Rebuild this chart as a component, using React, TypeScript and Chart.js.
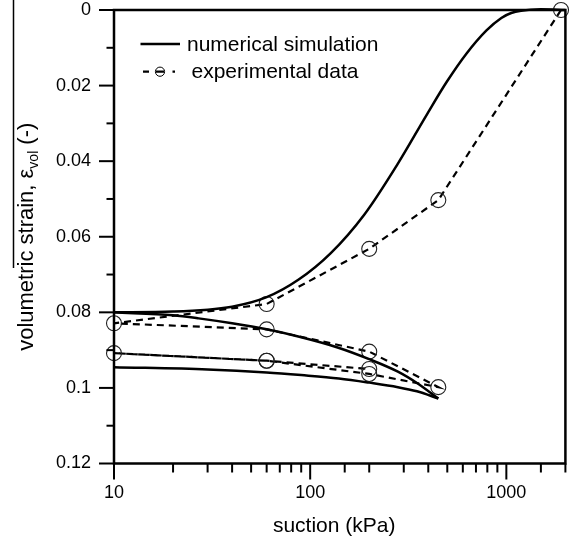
import React, { useEffect, useRef } from 'react';
import { Chart, registerables } from 'chart.js';

Chart.register(...registerables);

const FONT = "'Liberation Sans', Arial, Helvetica, sans-serif";

// numerical simulation: first wetting path (from 2000 kPa down to 10 kPa)
const simWettingSuction = [10, 20, 40, 60, 87, 127, 189, 278, 394, 497, 627, 792, 943, 1059, 1189, 1500, 2000];
const simWettingStrain = [0.08, 0.0798, 0.0785, 0.076, 0.0714, 0.0644, 0.0541, 0.0409, 0.0276, 0.019, 0.0115, 0.0054, 0.0021, 0.0008, 0.0002, -0.0002, 0];

// numerical simulation: drying path (10 -> 450 kPa)
const simDryingSuction = [10, 20, 27, 40, 60, 87, 138, 200, 280, 350, 450];
const simDryingStrain = [0.08, 0.0808, 0.0816, 0.0829, 0.0845, 0.0864, 0.0893, 0.0924, 0.0957, 0.0987, 0.1028];

// numerical simulation: re-wetting path (450 -> 10 kPa)
const simRewettingSuction = [10, 30, 60, 90, 140, 200, 280, 350, 450];
const simRewettingStrain = [0.0945, 0.0951, 0.0959, 0.0966, 0.0975, 0.0986, 0.0998, 0.1009, 0.1028];

// experimental data (measured sequence)
const expSuction = [1900, 450, 200, 60, 10, 60, 200, 450, 200, 60, 10, 60, 200];
const expStrain = [0, 0.0503, 0.0632, 0.0778, 0.0829, 0.0845, 0.0904, 0.0998, 0.0963, 0.0928, 0.0908, 0.0928, 0.095];

const xMin = 10;
const xMax = 2000;
const yMin = 0;
const yMax = 0.12;
const yStep = 0.01;
const xTickLabels = ['10', '100', '1000'];
const yTickLabels = ['0', '0.02', '0.04', '0.06', '0.08', '0.1', '0.12'];

const legendLabels = ['numerical simulation', 'experimental data'];
const xTitle = 'suction (kPa)';
const yTitleMain = 'volumetric strain, \u03B5';
const yTitleSub = 'vol';
const yTitleEnd = ' (-)';

const fmtY = (v: number) => String(Number(v.toFixed(2)));

const toPoints = (xs: number[], ys: number[]) => xs.map((x, i) => ({ x, y: ys[i] }));

const framePlugin = {
  id: 'framePlugin',
  afterDraw(chart: any) {
    const { ctx, chartArea, scales } = chart;
    const { left, right, top, bottom } = chartArea;
    const xs = scales.x;
    const ys = scales.y;
    ctx.save();
    ctx.strokeStyle = '#000';
    ctx.fillStyle = '#000';
    ctx.lineCap = 'butt';

    // tick marks
    ctx.lineWidth = 2;
    ys.ticks.forEach((t: any) => {
      const py = ys.getPixelForValue(t.value);
      const major = yTickLabels.includes(fmtY(t.value));
      const len = major ? 15 : 7.5;
      ctx.beginPath();
      ctx.moveTo(left - len, py);
      ctx.lineTo(left, py);
      ctx.stroke();
    });
    xs.ticks.forEach((t: any) => {
      const px = xs.getPixelForValue(t.value);
      const major = xTickLabels.includes(String(t.value));
      const len = major ? 16 : 9;
      ctx.beginPath();
      ctx.moveTo(px, bottom);
      ctx.lineTo(px, bottom + len);
      ctx.stroke();
    });

    // frame
    ctx.lineWidth = 2.5;
    ctx.lineJoin = 'miter';
    ctx.strokeRect(left, top, right - left, bottom - top);

    // legend
    const r1 = top + 34;
    const r2 = top + 61.7;
    ctx.lineWidth = 2.5;
    ctx.beginPath();
    ctx.moveTo(left + 26.5, r1);
    ctx.lineTo(left + 66, r1);
    ctx.stroke();
    ctx.font = `21px ${FONT}`;
    ctx.textBaseline = 'middle';
    ctx.textAlign = 'left';
    ctx.fillText(legendLabels[0], left + 73, r1 + 1);

    ctx.lineWidth = 2.2;
    ctx.beginPath();
    ctx.moveTo(left + 29, r2);
    ctx.lineTo(left + 35, r2);
    ctx.moveTo(left + 42, r2);
    ctx.lineTo(left + 50, r2);
    ctx.moveTo(left + 58.5, r2);
    ctx.lineTo(left + 61, r2);
    ctx.stroke();
    ctx.lineWidth = 1;
    ctx.beginPath();
    ctx.arc(left + 46, r2, 4.6, 0, Math.PI * 2);
    ctx.stroke();
    ctx.fillText(legendLabels[1], left + 77.5, r2 + 1);

    // x axis title
    ctx.font = `21px ${FONT}`;
    ctx.textAlign = 'center';
    ctx.textBaseline = 'middle';
    ctx.fillText(xTitle, (left + right) / 2 - 5.5, 526);

    // y axis title with subscript
    ctx.textAlign = 'left';
    const cy = (top + bottom) / 2;
    ctx.translate(33, cy);
    ctx.rotate(-Math.PI / 2);
    ctx.textBaseline = 'alphabetic';
    const bigFont = `22px ${FONT}`;
    const smallFont = `14px ${FONT}`;
    ctx.font = bigFont;
    const w1 = ctx.measureText(yTitleMain).width;
    const w3 = ctx.measureText(yTitleEnd).width;
    ctx.font = smallFont;
    const w2 = ctx.measureText(yTitleSub).width;
    let u = -(w1 + w2 + w3) / 2;
    ctx.font = bigFont;
    ctx.fillText(yTitleMain, u, 0);
    u += w1;
    ctx.font = smallFont;
    ctx.fillText(yTitleSub, u, 5);
    u += w2;
    ctx.font = bigFont;
    ctx.fillText(yTitleEnd, u, 0);
    ctx.restore();

    // thin stray line present beside the y title in the original figure
    ctx.save();
    ctx.strokeStyle = '#000';
    ctx.lineWidth = 1.5;
    ctx.beginPath();
    ctx.moveTo(13.5, 0);
    ctx.lineTo(13.5, 268);
    ctx.stroke();
    ctx.restore();
  },
};

export default function App() {
  const canvasRef = useRef<HTMLCanvasElement | null>(null);

  useEffect(() => {
    if (!canvasRef.current) return;
    const solid = {
      borderColor: '#000',
      borderWidth: 2.5,
      pointRadius: 0,
      fill: false,
      cubicInterpolationMode: 'monotone' as const,
      clip: false as any,
    };
    const chart = new Chart(canvasRef.current, {
      type: 'line',
      data: {
        datasets: [
          { ...solid, label: legendLabels[0], data: toPoints(simWettingSuction, simWettingStrain) },
          { ...solid, label: legendLabels[0] + ' 2', data: toPoints(simDryingSuction, simDryingStrain) },
          { ...solid, label: legendLabels[0] + ' 3', data: toPoints(simRewettingSuction, simRewettingStrain) },
          {
            label: legendLabels[1],
            data: toPoints(expSuction, expStrain),
            borderColor: '#000',
            borderWidth: 2.2,
            borderDash: [7, 5],
            tension: 0,
            fill: false,
            pointStyle: 'circle',
            pointRadius: 7.5,
            pointBorderWidth: 1.1,
            pointBorderColor: '#222',
            pointBackgroundColor: 'rgba(0,0,0,0)',
            clip: false as any,
          },
        ],
      },
      options: {
        responsive: false,
        animation: false,
        devicePixelRatio: 1,
        events: [],
        layout: { padding: { top: 10, right: 5, left: 0, bottom: 0 } },
        plugins: { legend: { display: false }, tooltip: { enabled: false } },
        scales: {
          x: {
            type: 'logarithmic',
            min: xMin,
            max: xMax,
            border: { display: false },
            grid: { display: false, drawTicks: false },
            ticks: {
              autoSkip: false,
              maxRotation: 0,
              minRotation: 0,
              padding: 19,
              color: '#000',
              font: { family: FONT, size: 18 },
              callback: (v: any) => (xTickLabels.includes(String(v)) ? String(v) : ''),
            },
            title: { display: false },
            afterFit: (s: any) => {
              s.height = 79.5;
              s.paddingLeft = 0;
              s.paddingRight = 0;
            },
          },
          y: {
            type: 'linear',
            reverse: true,
            min: yMin,
            max: yMax,
            border: { display: false },
            grid: { display: false, drawTicks: false },
            ticks: {
              stepSize: yStep,
              autoSkip: false,
              padding: 23,
              color: '#000',
              font: { family: FONT, size: 18 },
              callback: (v: any) => (yTickLabels.includes(fmtY(Number(v))) ? fmtY(Number(v)) : ''),
            },
            afterFit: (s: any) => {
              s.width = 114;
              s.paddingTop = 0;
              s.paddingBottom = 0;
            },
          },
        },
      },
      plugins: [framePlugin],
    });
    return () => chart.destroy();
  }, []);

  return (
    <div style={{ position: 'absolute', left: 0, top: 0, width: 574, height: 543, background: '#fff' }}>
      <canvas ref={canvasRef} width={574} height={543} />
    </div>
  );
}
